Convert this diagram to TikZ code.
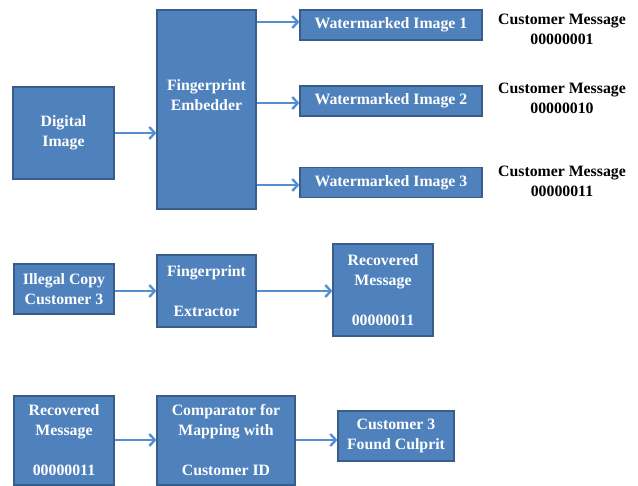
\documentclass[tikz,border=0pt]{standalone}
\usepackage{fontspec}
\setmainfont{Liberation Serif}
\usetikzlibrary{arrows.meta}
\definecolor{boxfill}{HTML}{4F81BD}
\definecolor{boxline}{HTML}{385D8A}
\definecolor{arrblue}{HTML}{558ED5}
\tikzset{
  box/.style={draw=boxline, fill=boxfill, line width=1.2pt, inner sep=0pt, minimum width=#1},
  wtxt/.style={text=white, font=\fontsize{15.8}{20}\selectfont\bfseries, align=center, inner sep=0pt},
  btxt/.style={text=black, font=\fontsize{15.8}{20}\selectfont\bfseries, align=center, inner sep=0pt},
  arr/.style={draw=arrblue, line width=2.6pt, -{Straight Barb[length=5.5pt,width=12pt,line width=2.4pt]}}
}
\begin{document}
\begin{tikzpicture}[x=1pt,y=-1pt]
\useasboundingbox (0,0) rectangle (638,486);
% row 1
\node[box=101, minimum height=92, wtxt] (dig) at (63.5,133) {Digital\\Image};
\node[box=99, minimum height=199] (emb) at (206.5,109.5) {};
\node[wtxt] (embt) at (206.5,95) {Fingerprint\\Embedder};
\node[box=182, minimum height=30, wtxt] (wm1) at (391,25) {Watermarked Image 1};
\node[box=182, minimum height=30, wtxt] (wm2) at (391,101) {Watermarked Image 2};
\node[box=182, minimum height=30, wtxt] (wm3) at (391,182.5) {Watermarked Image 3};
\node[btxt] (cm1) at (562,29) {Customer Message\\00000001};
\node[btxt] (cm2) at (562,98.5) {Customer Message\\00000010};
\node[btxt] (cm3) at (562,181.5) {Customer Message\\00000011};
\draw[arr] (dig.east) -- (emb.west |- dig.east);
\draw[arr] (emb.east |- 0,22) -- (wm1.west |- 0,22);
\draw[arr] (emb.east |- 0,103) -- (wm2.west |- 0,103);
\draw[arr] (emb.east |- 0,185) -- (wm3.west |- 0,185);
% row 2
\node[box=100, minimum height=50, wtxt] (ill) at (64,289) {Illegal Copy\\Customer 3};
\node[box=99, minimum height=72, wtxt] (ext) at (206.5,291) {Fingerprint\\\mbox{}\\Extractor};
\node[box=100, minimum height=92, wtxt] (rec) at (383,290) {Recovered\\Message\\\mbox{}\\00000011};
\draw[arr] (ill.east |- 0,291) -- (ext.west |- 0,291);
\draw[arr] (ext.east |- 0,291) -- (rec.west |- 0,291);
% row 3
\node[box=100, minimum height=89, wtxt] (rec2) at (64,440.5) {Recovered\\Message\\\mbox{}\\00000011};
\node[box=138, minimum height=89, wtxt] (comp) at (226,440.5) {Comparator for\\Mapping with\\\mbox{}\\Customer ID};
\node[box=116, minimum height=50, wtxt] (cul) at (396,436) {Customer 3\\Found Culprit};
\draw[arr] (rec2.east |- 0,440) -- (comp.west |- 0,440);
\draw[arr] (comp.east |- 0,440) -- (cul.west |- 0,440);
\end{tikzpicture}
\end{document}
